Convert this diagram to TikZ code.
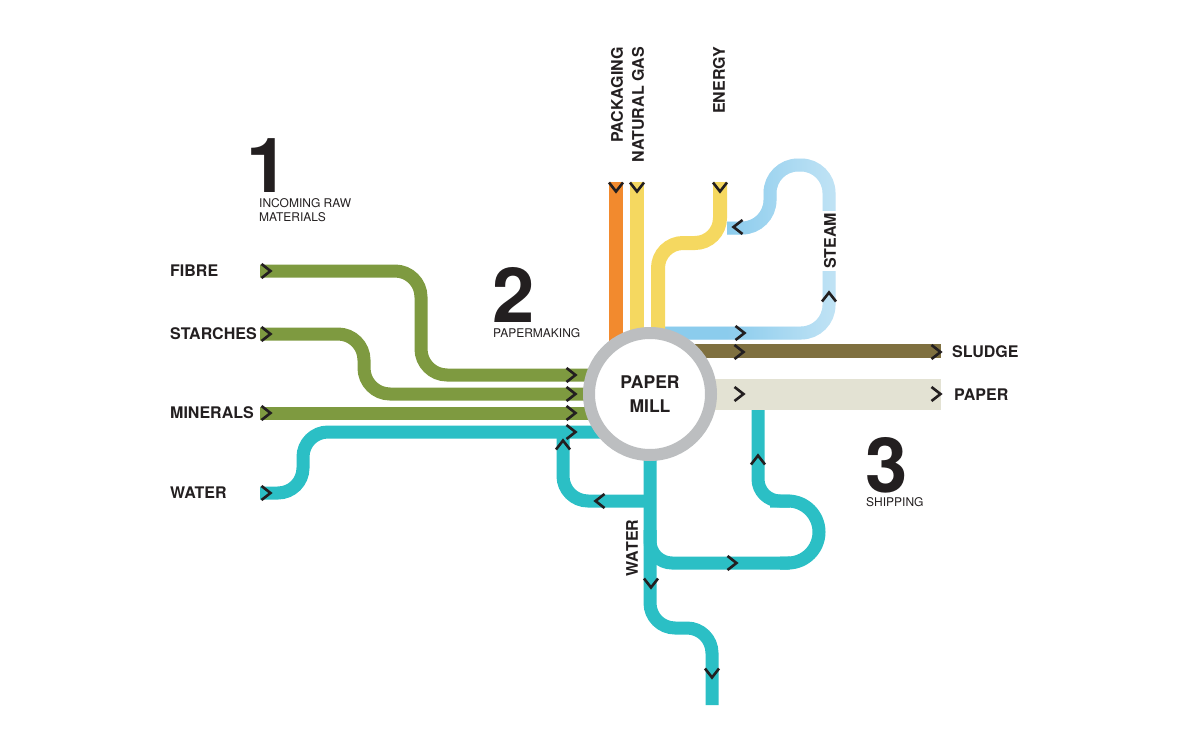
\documentclass[tikz,border=0pt]{standalone}
\usepackage{fontspec}
\setmainfont{TeX Gyre Heros}
\usetikzlibrary{fadings}

\definecolor{ink}{HTML}{231F20}
\definecolor{leaf}{HTML}{7E9A40}
\definecolor{aqua}{HTML}{2BBFC5}
\definecolor{amber}{HTML}{F28A2E}
\definecolor{sun}{HTML}{F5D860}
\definecolor{mud}{HTML}{7F7040}
\definecolor{pulp}{HTML}{E3E2D3}
\definecolor{ring}{HTML}{BCBEC0}
\definecolor{steamdark}{HTML}{8BCCED}
\definecolor{steamlight}{HTML}{DAEEF9}

\tikzfading[name=steamfade, left color=transparent!0, middle color=transparent!0, right color=transparent!80]

\begin{document}
\begin{tikzpicture}[x=1pt,y=-1pt]
    \tikzset{flow/.style={line width=13pt,rounded corners=26pt}}
    \tikzset{tag/.style={font=\fontsize{16}{18}\selectfont\bfseries,text=ink,inner sep=0pt}}
    \tikzset{note/.style={font=\fontsize{12}{14}\selectfont,text=ink,inner sep=0pt,align=left}}
    \tikzset{digit/.style={font=\fontsize{76}{76}\selectfont\bfseries,text=ink,inner sep=0pt,text depth=0pt,anchor=base}}
    \tikzset{chev/.pic={\draw[line width=2.6pt,ink] (-4.5,-7) -- (4.5,0) -- (-4.5,7);}}
    \useasboundingbox (0,0) rectangle (1200,750);

    % ends of the flows
    \coordinate (fibrein) at (260,271);
    \coordinate (starchin) at (260,334);
    \coordinate (mineralin) at (260,413);
    \coordinate (waterin) at (260,493);
    \coordinate (fibreend) at (600,375);
    \coordinate (starchend) at (600,394);
    \coordinate (mineralend) at (600,413);
    \coordinate (waterend) at (610,432);
    \coordinate (packin) at (616,182);
    \coordinate (gasin) at (637,182);
    \coordinate (energyin) at (720,182);
    \coordinate (steamout) at (660,333);
    \coordinate (sludgeout) at (941,351);
    \coordinate (paperout) at (941,394);
    \coordinate (waterout) at (712,705);
    \coordinate (millc) at (650,394);

    % steam loop
    \draw[flow,rounded corners=28pt,steamlight] (steamout) -- (829,333) -- (829,165)
        -- (770,165) -- (770,228) -- (727,228);
    \draw[flow,rounded corners=28pt,steamdark,path fading=steamfade,fit fading=false,
        fading transform={shift={(790,250)},xscale=2.6,yscale=3}] (steamout) -- (829,333)
        -- (829,165) -- (770,165) -- (770,228) -- (727,228);

    % top inputs
    \draw[line width=14pt,amber] (packin) -- (616,380);
    \draw[line width=14pt,sun] (gasin) -- (637,380);
    \draw[line width=14pt,sun,rounded corners=25pt] (energyin) -- (720,243) -- (658,243) -- (658,380);

    % raw materials
    \draw[line width=14pt,mud] (millc |- sludgeout) -- (sludgeout);
    \draw[flow,leaf] (fibrein) -- (421,271) -- (421,375) -- (fibreend);
    \draw[flow,leaf] (starchin) -- (364,334) -- (364,394) -- (starchend);
    \draw[flow,leaf] (mineralin) -- (mineralend);
    \draw[flow,aqua,rounded corners=25pt] (waterin) -- (303,493) -- (303,432) -- (waterend);

    % water circuit
    \draw[flow,aqua,rounded corners=25pt] (650,501) -- (563,501) -- (563,432);
    \draw[flow,aqua,rounded corners=22pt] (650,530) -- (650,563) -- (790,563);
    \draw[flow,aqua,rounded corners=31pt] (780,563) -- (819,563) -- (819,501) -- (770,501);
    \draw[flow,aqua,rounded corners=22pt] (790,501) -- (758,501) -- (758,405);
    \draw[flow,aqua,rounded corners=25pt] (millc) -- (650,628) -- (712,628) -- (waterout);

    % paper
    \draw[line width=31pt,pulp] (millc) -- (paperout);

    \node[circle,draw=ring,line width=12pt,fill=white,minimum size=122pt,inner sep=0pt,
        align=center,text=ink,font=\fontsize{17.5}{24}\selectfont\bfseries] (mill) at (millc) {PAPER\\MILL};

    % direction marks
    \foreach \p in {(266,271),(266,334),(266,413),(266,493),(571,375),(571,394),(571,413),(571,432),
        (740,333),(739,352),(936,352),(739,394),(936,394),(732,563)}
        \pic at \p {chev};
    \foreach \p in {(563,445),(758,460),(829,297)}
        \pic[rotate=90] at \p {chev};
    \foreach \p in {(616,187),(637,187),(720,187),(651,583),(712,673)}
        \pic[rotate=-90] at \p {chev};
    \foreach \p in {(600,501),(738,227)}
        \pic[rotate=180] at \p {chev};

    % labels
    \node[tag,anchor=west] (fibre) at (170,271) {FIBRE};
    \node[tag,anchor=west] (starches) at (170,334) {STARCHES};
    \node[tag,anchor=west] (minerals) at (170,413) {MINERALS};
    \node[tag,anchor=west] (water) at (170,493) {WATER};
    \node[tag,anchor=west] (sludge) at (952,352) {SLUDGE};
    \node[tag,anchor=west] (paper) at (954,395) {PAPER};
    \node[tag,anchor=east,rotate=90] (packaging) at (617,47) {PACKAGING};
    \node[tag,anchor=east,rotate=90] (naturalgas) at (638,47) {NATURAL GAS};
    \node[tag,anchor=east,rotate=90] (energy) at (719,47) {ENERGY};
    \node[tag,rotate=90,fill=white,inner sep=2pt] (steam) at (830,241) {STEAM};
    \node[tag,rotate=90] (waterlbl) at (632,548) {WATER};

    \node[digit] (one) at (268,192) {1};
    \node[note,anchor=north west] (incoming) at (259,198) {INCOMING RAW\\MATERIALS};
    \node[digit] (two) at (514,322) {2};
    \node[note,anchor=west] (papermaking) at (493,333) {PAPERMAKING};
    \node[digit] (three) at (887,492) {3};
    \node[note,anchor=west] (shipping) at (866,502) {SHIPPING};
\end{tikzpicture}
\end{document}
